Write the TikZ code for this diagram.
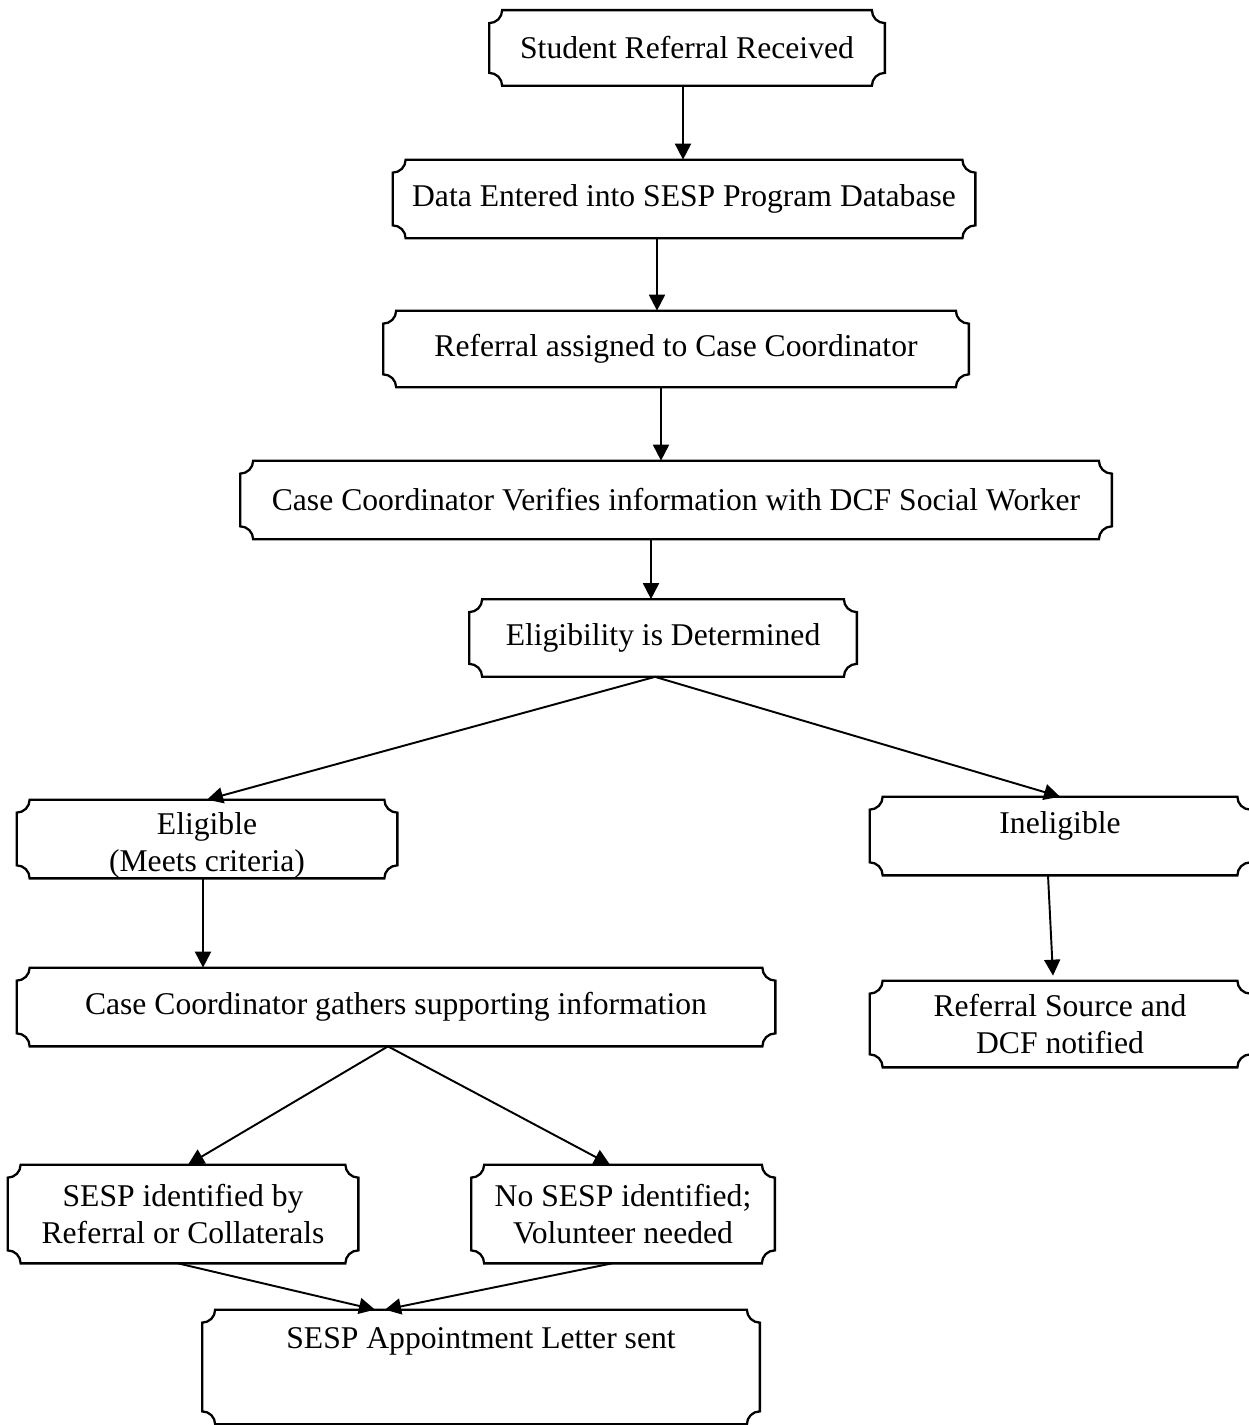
\documentclass[tikz,border=0pt]{standalone}
\usepackage{fontspec}
\setmainfont{Liberation Serif}
\usetikzlibrary{arrows.meta,calc}

\tikzset{
  stage/.style={minimum width=#1, minimum height=1.56cm, inner sep=0pt, align=center,
    font=\fontsize{18}{21}\selectfont},
  plaqueline/.style={line width=1.3pt},
  flow/.style={line width=1.1pt, -{Triangle[length=0.32cm, width=0.32cm]}}
}

\begin{document}
\begin{tikzpicture}
  \useasboundingbox (0,0) rectangle (24.96,-28.5);

  % main chain
  \node[stage=7.9cm, minimum height=1.5cm] (recv) at (13.74,-0.96) {Student Referral Received};
  \node[stage=11.64cm] (entry) at (13.68,-3.98) {Data Entered into SESP Program Database};
  \node[stage=11.7cm, minimum height=1.52cm] (assign) at (13.52,-6.98) {Referral assigned to Case Coordinator};
  \node[stage=17.42cm] (verify) at (13.52,-10.0) {Case Coordinator Verifies information with DCF Social Worker};
  \node[stage=7.74cm, minimum height=1.54cm] (elig) at (13.26,-12.76) {Eligibility is Determined};

  % two branches
  \node[stage=7.6cm, text height=1.3cm, text depth=0cm] (yes) at (4.14,-16.78) {Eligible\\(Meets criteria)};
  \node[stage=7.6cm, text depth=0.55cm] (no) at (21.2,-16.72) {Ineligible};
  \node[stage=15.16cm] (gather) at (7.92,-20.14) {Case Coordinator gathers supporting information};
  \node[stage=7.6cm, minimum height=1.72cm] (notify) at (21.2,-20.48) {Referral Source and\\DCF notified};
  \node[stage=7.0cm, minimum height=1.96cm] (found) at (3.66,-24.28) {SESP identified by\\Referral or Collaterals};
  \node[stage=6.06cm, minimum height=1.96cm] (nosesp) at (12.46,-24.28) {No SESP identified;\\Volunteer needed};
  \node[stage=11.14cm, minimum height=2.28cm, text depth=1.15cm] (letter) at (9.62,-27.34) {SESP Appointment Letter sent};

  % plaque outlines
  \def\r{0.26}
  \foreach \n in {recv,entry,assign,verify,elig,yes,no,gather,notify,found,nosesp,letter}
    \draw[plaqueline] ($(\n.north west)+(\r,0)$) -- ($(\n.north east)+(-\r,0)$)
      arc[start angle=180, end angle=270, radius=\r] -- ($(\n.south east)+(0,\r)$)
      arc[start angle=90, end angle=180, radius=\r] -- ($(\n.south west)+(\r,0)$)
      arc[start angle=0, end angle=90, radius=\r] -- ($(\n.north west)+(0,-\r)$)
      arc[start angle=270, end angle=360, radius=\r] -- cycle;

  % connectors
  \coordinate (yesfoot) at ($(yes.south)+(-0.08,0)$);
  \draw[flow] ($(recv.south)+(-0.08,0)$) -- ($(entry.north)+(-0.02,0)$);
  \draw[flow] ($(entry.south)+(-0.54,0)$) -- ($(assign.north)+(-0.38,0)$);
  \draw[flow] ($(assign.south)+(-0.30,0)$) -- ($(verify.north)+(-0.30,0)$);
  \draw[flow] ($(verify.south)+(-0.50,0)$) -- ($(elig.north)+(-0.24,0)$);
  \draw[flow] ($(elig.south)+(-0.16,0)$) -- (yes.north);
  \draw[flow] ($(elig.south)+(-0.16,0)$) -- (no.north);
  \draw[flow] (yesfoot) -- (yesfoot |- gather.north);
  \draw[flow] ($(no.south)+(-0.24,0)$) -- ($(notify.north)+(-0.14,0.1)$);
  \draw[flow] ($(gather.south)+(-0.16,0)$) -- ($(found.north)+(0.10,0)$);
  \draw[flow] ($(gather.south)+(-0.16,0)$) -- ($(nosesp.north)+(-0.26,0)$);
  \draw[flow] ($(found.south)+(-0.10,0)$) -- ($(letter.north)+(-2.12,0)$);
  \draw[flow] ($(nosesp.south)+(-0.22,0)$) -- ($(letter.north)+(-1.92,0)$);
\end{tikzpicture}
\end{document}
